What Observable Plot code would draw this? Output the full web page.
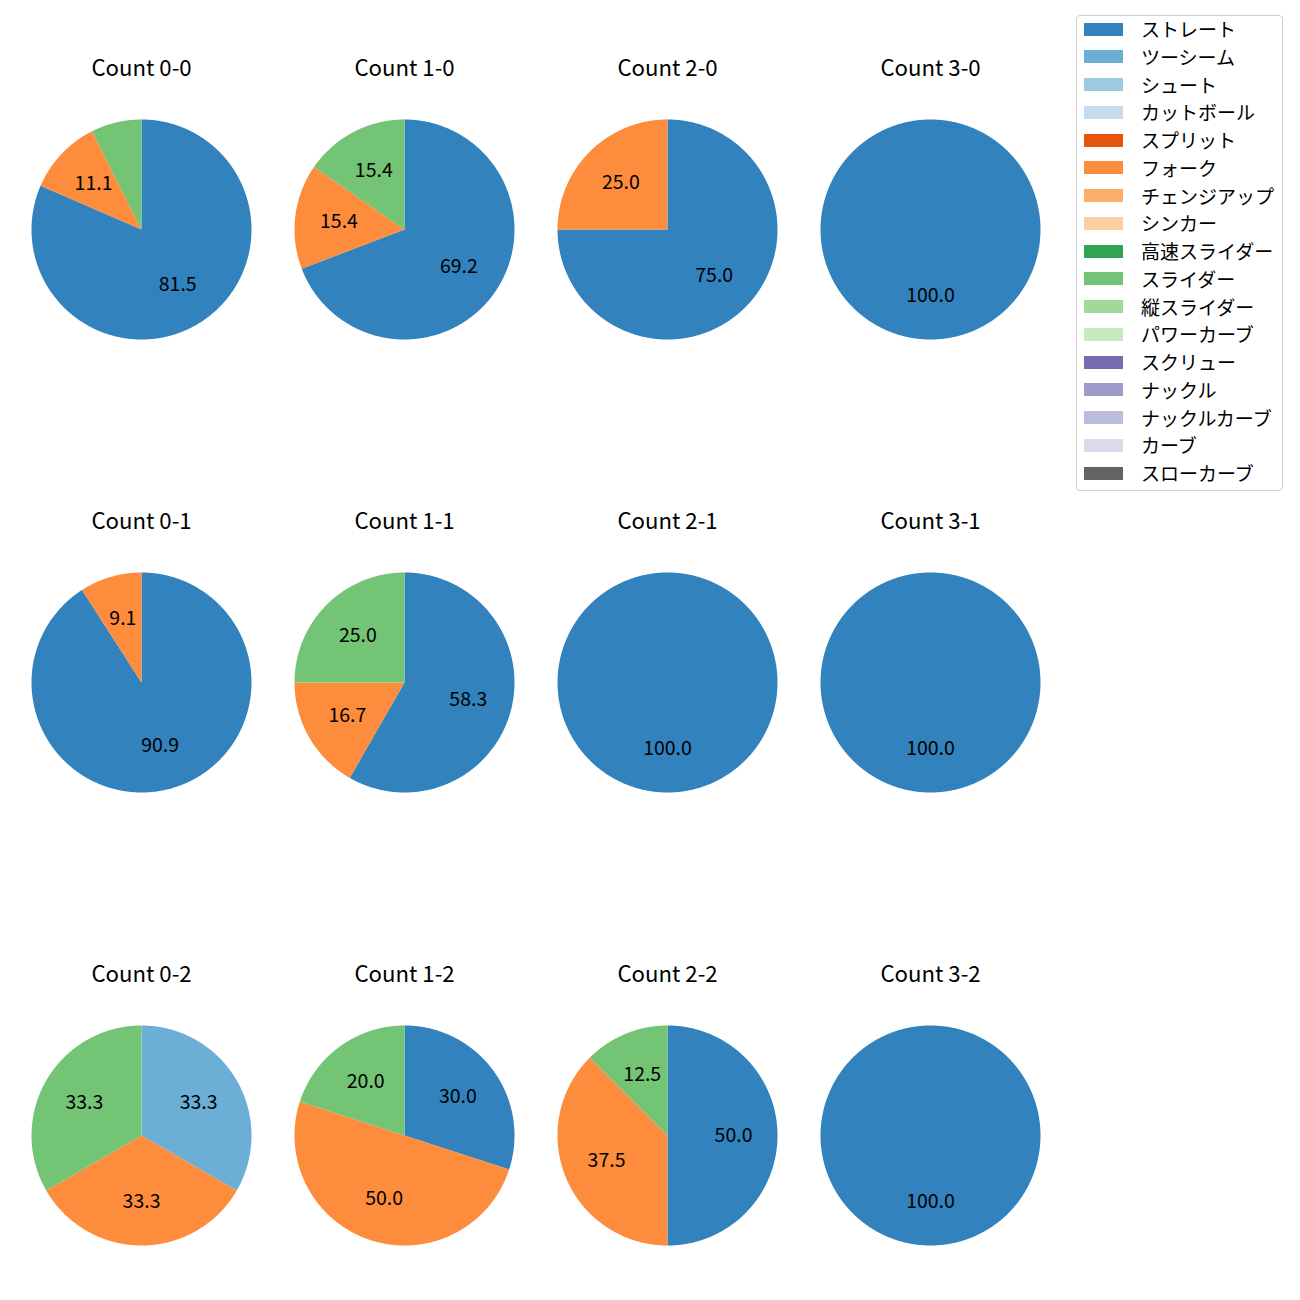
<!DOCTYPE html>
<html>
<head>
<meta charset="utf-8">
<script src="https://cdn.jsdelivr.net/npm/d3@7"></script>
<script src="https://cdn.jsdelivr.net/npm/@observablehq/plot@0.6"></script>
<style>
  html, body { margin: 0; padding: 0; background: #fff; }
  body { width: 1300px; height: 1300px; position: relative; font-family: "Noto Sans CJK JP", "Noto Sans", sans-serif; }
  #chart { position: absolute; left: 0; top: 0; }
  #legend { position: absolute; left: 1076px; top: 15px; width: 205px; height: 474px;
            border: 1px solid #d0d0d0; border-radius: 4px; background: rgba(255,255,255,0.8); }
  .row { position: absolute; left: 0; height: 20px; }
  .sw { position: absolute; left: 7px; width: 39px; height: 13px; }
  .lab { position: absolute; left: 64px; top: 0; font-size: 19px; white-space: nowrap; color: #000; line-height: 20px; }
</style>
</head>
<body>
<div id="chart"></div>
<div id="legend"></div>
<script>
// ---- data ----
const pitchTypes = ["ストレート","ツーシーム","シュート","カットボール","スプリット","フォーク","チェンジアップ","シンカー","高速スライダー","スライダー","縦スライダー","パワーカーブ","スクリュー","ナックル","ナックルカーブ","カーブ","スローカーブ"];
const pitchColors = ["#3182bd","#6baed6","#9ecae1","#c6dbef","#e6550d","#fd8d3c","#fdae6b","#fdd0a2","#31a354","#74c476","#a1d99b","#c7e9c0","#756bb1","#9e9ac8","#bcbddc","#dadaeb","#636363"];

const countTitles = ["Count 0-0","Count 1-0","Count 2-0","Count 3-0",
                     "Count 0-1","Count 1-1","Count 2-1","Count 3-1",
                     "Count 0-2","Count 1-2","Count 2-2","Count 3-2"];
const pieTypes = [
  ["ストレート","フォーク","スライダー"],
  ["ストレート","フォーク","スライダー"],
  ["ストレート","フォーク"],
  ["ストレート"],
  ["ストレート","フォーク"],
  ["ストレート","フォーク","スライダー"],
  ["ストレート"],
  ["ストレート"],
  ["ツーシーム","フォーク","スライダー"],
  ["ストレート","フォーク","スライダー"],
  ["ストレート","フォーク","スライダー"],
  ["ストレート"]
];
const pieShares = [
  [81.5, 11.1, 7.4],
  [69.2, 15.4, 15.4],
  [75.0, 25.0],
  [100.0],
  [90.9, 9.1],
  [58.3, 16.7, 25.0],
  [100.0],
  [100.0],
  [33.3, 33.3, 33.3],
  [30.0, 50.0, 20.0],
  [50.0, 37.5, 12.5],
  [100.0]
];

// ---- layout (pixels) ----
const colX = [141, 404, 667, 930];
const rowY = [229, 682, 1135];
const R = 110;
const titleOffset = 161;
const labelMin = 8;

// ---- build mark data ----
const wedgePts = [];
const labels = [];
const titles = [];
countTitles.forEach((t, i) => {
  const cx = colX[i % 4], cy = rowY[Math.floor(i / 4)];
  titles.push({x: cx, y: cy - titleOffset, text: t});
  const vals = pieShares[i];
  const total = d3.sum(vals);
  let acc = 0;
  vals.forEach((v, j) => {
    const a0 = acc / total * 2 * Math.PI;
    acc += v;
    const a1 = acc / total * 2 * Math.PI;
    const id = i + "-" + j;
    const type = pieTypes[i][j];
    wedgePts.push({id, type, x: cx, y: cy});
    const n = Math.max(2, Math.ceil((a1 - a0) / (Math.PI / 360)));
    for (let k = 0; k <= n; k++) {
      const a = a0 + (a1 - a0) * k / n;
      wedgePts.push({id, type, x: cx + R * Math.sin(a), y: cy - R * Math.cos(a)});
    }
    wedgePts.push({id, type, x: cx, y: cy});
    const pct = v / total * 100;
    if (pct >= labelMin) {
      const am = (a0 + a1) / 2;
      labels.push({x: cx + 0.6 * R * Math.sin(am), y: cy - 0.6 * R * Math.cos(am), text: v.toFixed(1)});
    }
  });
});

const plot = Plot.plot({
  width: 1300,
  height: 1300,
  margin: 0,
  x: {domain: [0, 1300], range: [0, 1300], axis: null},
  y: {domain: [0, 1300], range: [0, 1300], axis: null},
  color: {domain: pitchTypes, range: pitchColors},
  style: {fontFamily: '"Noto Sans CJK JP", "Noto Sans", sans-serif', background: "transparent"},
  marks: [
    Plot.line(wedgePts, {x: "x", y: "y", z: "id", fill: "type", stroke: "none", curve: "linear"}),
    Plot.text(labels, {x: "x", y: "y", text: "text", fontSize: 19.5, fill: "#000"}),
    Plot.text(titles, {x: "x", y: "y", text: "text", fontSize: 22.2, fill: "#000"})
  ]
});
document.getElementById("chart").appendChild(plot);

// ---- legend ----
const leg = document.getElementById("legend");
pitchTypes.forEach((t, i) => {
  const row = document.createElement("div");
  row.className = "row";
  row.style.top = (29 - 15 - 1 - 10 + i * 27.75) + "px";
  row.style.width = "100%";
  const sw = document.createElement("div");
  sw.className = "sw";
  sw.style.background = pitchColors[i];
  sw.style.top = "3.5px";
  const lab = document.createElement("div");
  lab.className = "lab";
  lab.textContent = t;
  row.appendChild(sw);
  row.appendChild(lab);
  leg.appendChild(row);
});
</script>
</body>
</html>
